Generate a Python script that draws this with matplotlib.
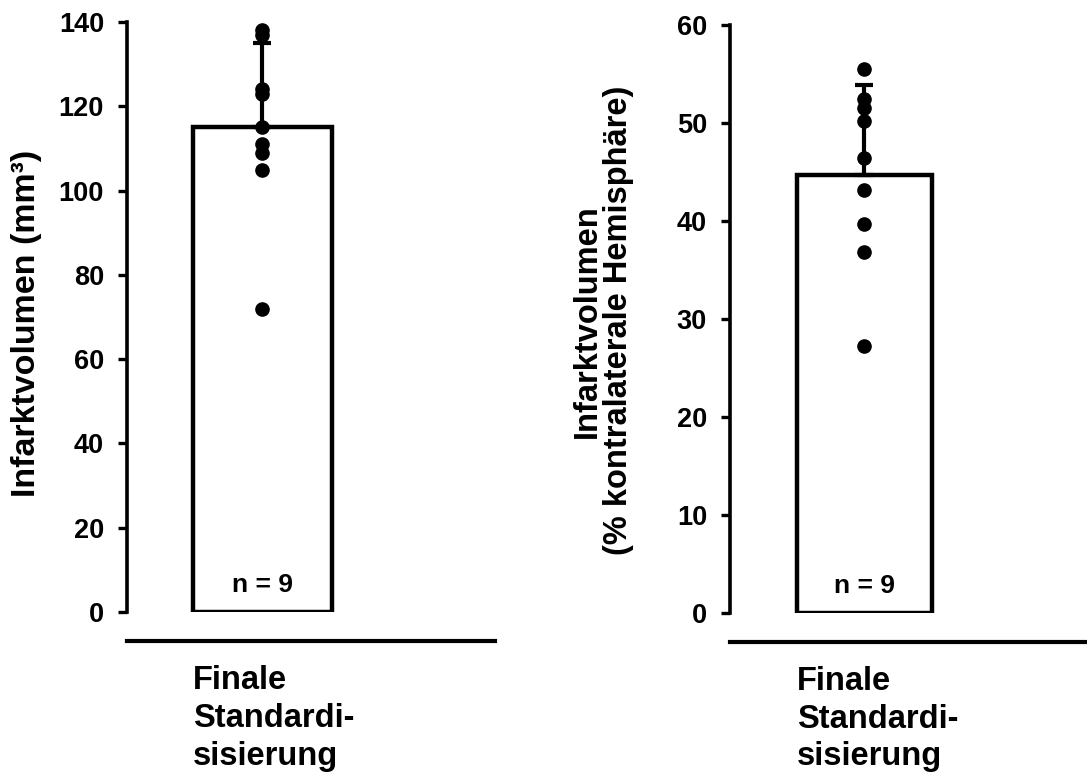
import numpy as np
import matplotlib
matplotlib.use("Agg")
import matplotlib.pyplot as plt
import matplotlib.transforms as mtransforms

plt.rcParams['font.family'] = ['Liberation Sans', 'DejaVu Sans']
plt.rcParams['font.weight'] = 'bold'

# data
group_label = "Finale\nStandardi-\nsisierung"
n_label = "n = 9"

left_points = [138, 137, 124, 123, 115, 111, 109, 105, 72]
left_mean = 115
left_sd = 19.9
left_ticks = [0, 20, 40, 60, 80, 100, 120, 140]
left_ylabel = "Infarktvolumen (mm³)"

right_points = [55.5, 52.5, 51.5, 50.2, 46.4, 43.2, 39.7, 36.8, 27.2]
right_mean = 44.7
right_sd = 9.2
right_ticks = [0, 10, 20, 30, 40, 50, 60]
right_ylabel = "Infarktvolumen\n(% kontralaterale Hemisphäre)"

fig = plt.figure(figsize=(10.87, 7.75), dpi=100)

ax1 = fig.add_axes([127/1087, 1-612/775, 368/1087, 590/775])
ax2 = fig.add_axes([730/1087, 1-613/775, 357/1087, 588/775])


def draw_panel(ax, points, mean, sd, ticks, ylabel, xlim, label_xy, label_size):
    ax.bar([0], [mean], width=1.0, color='white', edgecolor='black',
           linewidth=3.2, zorder=2)
    ax.errorbar([0], [mean], yerr=[[0], [sd]], fmt='none', ecolor='black',
                elinewidth=3, capsize=6.5, capthick=3, zorder=3)
    ax.plot(np.zeros(len(points)), points, 'o', color='black',
            markersize=9.5, zorder=4, clip_on=False)

    ax.set_xlim(*xlim)
    ax.set_ylim(ticks[0], ticks[-1])
    ax.set_yticks(ticks)
    ax.set_xticks([])

    for s in ['top', 'right']:
        ax.spines[s].set_visible(False)
    ax.spines['left'].set_linewidth(2.6)
    ax.spines['left'].set_bounds(ticks[0], ticks[-1])
    ax.spines['bottom'].set_linewidth(3)
    ax.spines['bottom'].set_position(('outward', 21))
    ax.tick_params(axis='y', direction='out', length=6.5, width=2.4,
                   pad=10, labelsize=19.5)
    for t in ax.get_yticklabels():
        t.set_fontweight('bold')

    ax.set_ylabel(ylabel, fontsize=label_size, fontweight='bold', linespacing=1.0)
    ax.yaxis.set_label_coords(*label_xy)

    ax.text(0, 0.034, n_label, transform=mtransforms.blended_transform_factory(
        ax.transData, ax.transAxes), ha='center', va='baseline',
        fontsize=19, fontweight='bold', zorder=5)

    ax.text(-0.5, -0.09, group_label, transform=mtransforms.blended_transform_factory(
        ax.transData, ax.transAxes), ha='left', va='top',
        fontsize=23.5, fontweight='bold', linespacing=1.28)


draw_panel(ax1, left_points, left_mean, left_sd, left_ticks, left_ylabel,
           (-0.975, 1.673), (-0.232, 0.49), 24.5)
draw_panel(ax2, right_points, right_mean, right_sd, right_ticks, right_ylabel,
           (-0.996, 1.648), (-0.27, 0.497), 23.5)

fig.savefig("out.png", dpi=100)
